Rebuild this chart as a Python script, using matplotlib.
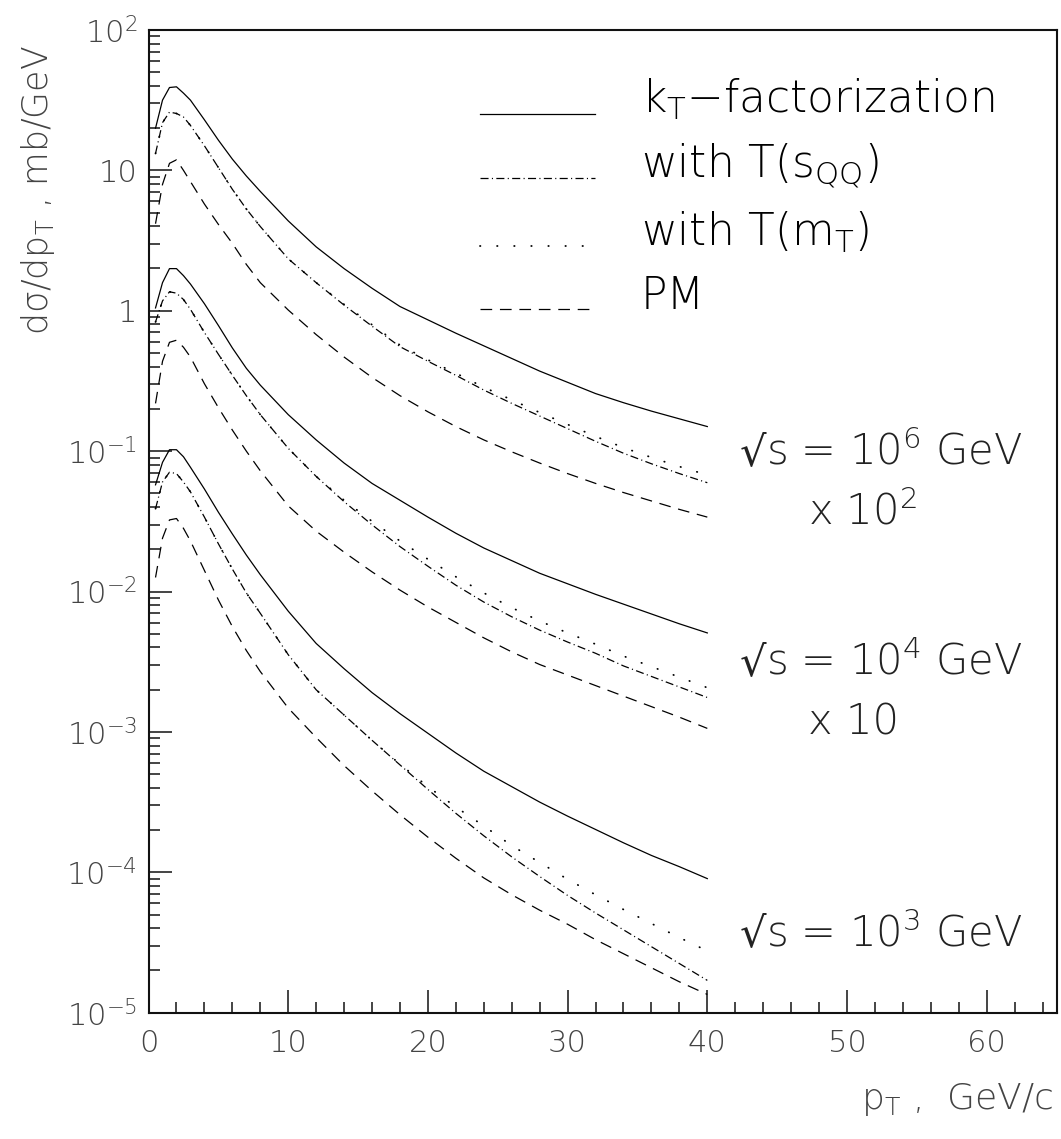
import matplotlib
matplotlib.use("Agg")
import numpy as np
import matplotlib.pyplot as plt
from matplotlib.ticker import FixedLocator, FixedFormatter, MultipleLocator, NullFormatter
from matplotlib.legend_handler import HandlerLine2D

FONT = "DejaVu Sans"
plt.rcParams["font.family"] = [FONT]
plt.rcParams["font.weight"] = "light"
plt.rcParams["mathtext.fontset"] = "custom"
plt.rcParams["mathtext.rm"] = FONT + ":light"
plt.rcParams["mathtext.it"] = FONT + ":light"
plt.rcParams["mathtext.default"] = "rm"
plt.rcParams["lines.scale_dashes"] = False

# transverse momentum grid, GeV/c
pt = [0.5, 1.0, 1.5, 2.0, 2.5, 3.0, 4.0, 5.0, 6.0, 7.0, 8.0, 10, 12, 14, 16,
      18, 20, 22, 24, 26, 28, 30, 32, 34, 36, 38, 40]

# log10 of dsigma/dpT (mb/GeV), sqrt(s) = 10^6 GeV, already multiplied by 10^2
kt_1e6 = [1.30, 1.50, 1.59, 1.595, 1.55, 1.50, 1.36, 1.215, 1.08, 0.96, 0.85, 0.64, 0.455,
          0.30, 0.16, 0.03, -0.065, -0.16, -0.25, -0.34, -0.43, -0.51, -0.59, -0.655,
          -0.715, -0.77, -0.825]
ts_1e6 = [1.12, 1.34, 1.415, 1.405, 1.38, 1.32, 1.175, 1.02, 0.865, 0.725, 0.60, 0.37, 0.20,
          0.04, -0.11, -0.256, -0.36, -0.46, -0.565, -0.66, -0.75, -0.84, -0.93, -1.015,
          -1.09, -1.16, -1.225]
tm_1e6 = [1.12, 1.34, 1.415, 1.405, 1.38, 1.32, 1.175, 1.02, 0.865, 0.725, 0.60, 0.37, 0.20,
          0.045, -0.10, -0.245, -0.35, -0.445, -0.545, -0.635, -0.725, -0.81, -0.895,
          -0.975, -1.045, -1.11, -1.17]
pm_1e6 = [0.62, 0.90, 1.05, 1.075, 1.00, 0.92, 0.76, 0.615, 0.48, 0.33, 0.20, 0.005, -0.17,
          -0.33, -0.475, -0.605, -0.72, -0.825, -0.92, -1.005, -1.085, -1.16, -1.23,
          -1.295, -1.355, -1.415, -1.47]

# sqrt(s) = 10^4 GeV, multiplied by 10
kt_1e4 = [0.02, 0.20, 0.30, 0.30, 0.25, 0.19, 0.05, -0.105, -0.265, -0.41, -0.53, -0.74,
          -0.92, -1.085, -1.23, -1.35, -1.47, -1.585, -1.69, -1.78, -1.87, -1.945, -2.02,
          -2.09, -2.16, -2.23, -2.295]
ts_1e4 = [-0.08, 0.07, 0.135, 0.125, 0.08, 0.01, -0.155, -0.31, -0.46, -0.605, -0.74, -0.98,
          -1.18, -1.36, -1.525, -1.68, -1.82, -1.955, -2.075, -2.18, -2.275, -2.36, -2.44,
          -2.53, -2.605, -2.68, -2.755]
tm_1e4 = [-0.08, 0.07, 0.135, 0.125, 0.08, 0.01, -0.155, -0.31, -0.46, -0.605, -0.74, -0.98,
          -1.18, -1.35, -1.50, -1.64, -1.77, -1.895, -2.01, -2.115, -2.21, -2.295, -2.375,
          -2.46, -2.535, -2.61, -2.685]
pm_1e4 = [-0.66, -0.36, -0.225, -0.21, -0.26, -0.33, -0.52, -0.69, -0.85, -1.0, -1.14, -1.39,
          -1.57, -1.72, -1.86, -1.99, -2.11, -2.22, -2.33, -2.43, -2.52, -2.595, -2.67,
          -2.745, -2.82, -2.895, -2.975]

# sqrt(s) = 10^3 GeV
kt_1e3 = [-1.24, -1.08, -0.99, -0.99, -1.04, -1.115, -1.27, -1.435, -1.59, -1.74, -1.88,
          -2.14, -2.37, -2.55, -2.72, -2.87, -3.01, -3.15, -3.28, -3.39, -3.50, -3.60,
          -3.695, -3.79, -3.88, -3.96, -4.045]
ts_1e3 = [-1.41, -1.22, -1.15, -1.16, -1.22, -1.29, -1.47, -1.66, -1.84, -2.01, -2.155,
          -2.45, -2.70, -2.88, -3.06, -3.235, -3.41, -3.58, -3.74, -3.89, -4.03, -4.165,
          -4.29, -4.41, -4.53, -4.65, -4.77]
tm_1e3 = [-1.41, -1.22, -1.15, -1.16, -1.22, -1.29, -1.47, -1.66, -1.84, -2.01, -2.155,
          -2.45, -2.70, -2.88, -3.06, -3.23, -3.39, -3.535, -3.67, -3.81, -3.93, -4.05,
          -4.16, -4.265, -4.365, -4.465, -4.56]
pm_1e3 = [-1.90, -1.62, -1.49, -1.48, -1.55, -1.64, -1.85, -2.06, -2.25, -2.42, -2.57,
          -2.83, -3.04, -3.24, -3.42, -3.59, -3.75, -3.90, -4.04, -4.16, -4.27, -4.37,
          -4.48, -4.58, -4.68, -4.78, -4.87]

model_labels = [r"k$_{\rm T}$$-$factorization", r"with T(s$_{\rm QQ}$)",
                r"with T(m$_{\rm T}$)", "PM"]

y_tick_values = [1e-5, 1e-4, 1e-3, 1e-2, 1e-1, 1, 10, 100]
y_tick_labels = [r"10$^{-5}$", r"10$^{-4}$", r"10$^{-3}$", r"10$^{-2}$", r"10$^{-1}$",
                 "1", "10", r"10$^{2}$"]
x_tick_values = [0, 10, 20, 30, 40, 50, 60]

energy_labels = [r"s = 10$^{6}$ GeV", r"s = 10$^{4}$ GeV", r"s = 10$^{3}$ GeV"]
scale_labels = [r"x 10$^{2}$", "x 10"]

styles = [
    dict(linestyle="-", lw=0.9),
    dict(linestyle=(0, (5.8, 2.4, 0.8, 2.4)), lw=0.9),
    dict(linestyle=(0, (0.3, 12.0)), lw=1.3, dash_capstyle="round"),
    dict(linestyle=(0, (8.4, 5.6)), lw=0.9),
]


class BaselineLineHandler(HandlerLine2D):
    """Legend line sample drawn near the text baseline instead of its middle."""

    def create_artists(self, legend, orig_handle, xdescent, ydescent, width, height,
                       fontsize, trans):
        artists = super().create_artists(legend, orig_handle, xdescent, ydescent,
                                         width, height, fontsize, trans)
        for art in artists:
            art.set_ydata(np.asarray(art.get_ydata()) - 0.36 * fontsize)
        return artists


fig = plt.figure(figsize=(10.61, 11.39), dpi=100)
ax = fig.add_axes([0.14, 0.1109, 0.8558, 0.8628])
ax.set_yscale("log")
ax.set_xlim(0, 65)
ax.set_ylim(1e-5, 1e2)

groups = [
    [kt_1e6, ts_1e6, tm_1e6, pm_1e6],
    [kt_1e4, ts_1e4, tm_1e4, pm_1e4],
    [kt_1e3, ts_1e3, tm_1e3, pm_1e3],
]
x = np.array(pt)
handles = []
for gi, group in enumerate(groups):
    for si, series in enumerate(group):
        ln, = ax.plot(x, 10.0 ** np.array(series), color="black", **styles[si])
        if gi == 0:
            handles.append(ln)

ax.legend(handles, model_labels, loc="upper left", bbox_to_anchor=(0.365, 0.952),
          frameon=False, fontsize=31.5, handlelength=2.62, handletextpad=1.05,
          labelspacing=0.45, borderpad=0, borderaxespad=0,
          handler_map={ln: BaselineLineHandler() for ln in handles})

# energy annotations: radical sign set separately (regular weight carries the glyph)
ann = dict(fontsize=30, va="baseline", color="#222")
label_x = 44.2
for lab, ly in zip(energy_labels, [-1.098, -2.594, -4.529]):
    ax.text(label_x, 10 ** ly, "√", ha="right", fontweight="normal", **ann)
    ax.text(label_x, 10 ** ly, lab, ha="left", **ann)
ax.text(47.2, 10 ** -1.526, scale_labels[0], ha="left", **ann)
ax.text(47.2, 10 ** -3.02, scale_labels[1], ha="left", **ann)

# axes styling
for side in ["left", "bottom", "top", "right"]:
    ax.spines[side].set_linewidth(1.5)
    ax.spines[side].set_color("#111")
ax.yaxis.set_major_locator(FixedLocator(y_tick_values))
ax.yaxis.set_major_formatter(FixedFormatter(y_tick_labels))
minor = [m * 10.0 ** e for e in range(-5, 2) for m in range(2, 10)]
ax.yaxis.set_minor_locator(FixedLocator(minor))
ax.yaxis.set_minor_formatter(NullFormatter())
ax.xaxis.set_major_locator(FixedLocator(x_tick_values))
ax.xaxis.set_minor_locator(MultipleLocator(2))
ax.tick_params(which="both", direction="in", top=False, right=False, color="#444")
ax.tick_params(which="major", length=16.5, width=1.4, labelsize=22, labelcolor="#444")
ax.tick_params(which="minor", length=8, width=1.4)
ax.tick_params(axis="y", which="major", pad=8)
ax.tick_params(axis="x", which="major", pad=12)

fig.text(38 / 1061, 1 - 190 / 1139, r"d$\sigma$/dp$_{\rm T}$ , mb/GeV", rotation=90,
         fontsize=25, ha="center", va="center", color="#444")
fig.text(1053 / 1061, 1 - 1100 / 1139, r"p$_{\rm T}$ ,  GeV/c", fontsize=26,
         ha="right", va="center", color="#444")

fig.savefig("out.png", dpi=100)
